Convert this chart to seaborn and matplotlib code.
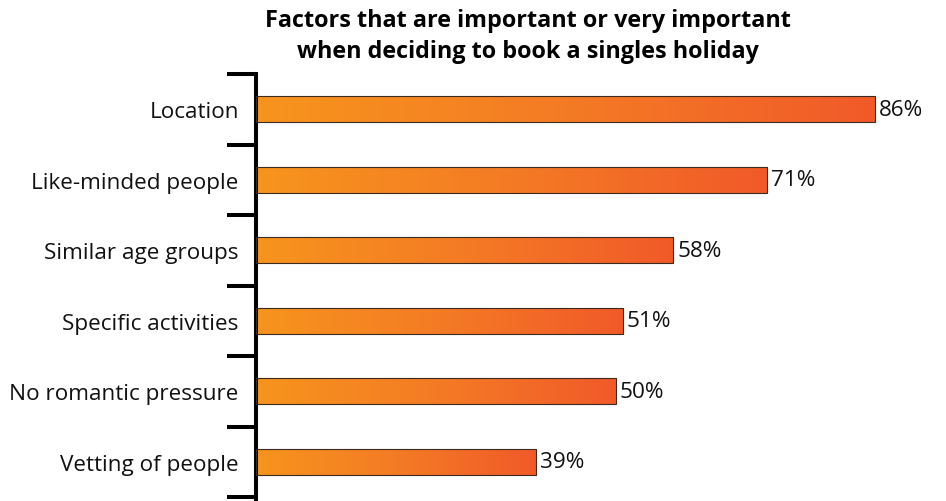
import numpy as np
import pandas as pd
import matplotlib
matplotlib.use("Agg")
import matplotlib.pyplot as plt
from matplotlib.colors import LinearSegmentedColormap
import seaborn as sns

factors = ["Location", "Like-minded people", "Similar age groups",
           "Specific activities", "No romantic pressure", "Vetting of people"]
shares = [86, 71, 58, 51, 50, 39]
title_lines = ["Factors that are important or very important",
               "when deciding to book a singles holiday"]

df = pd.DataFrame({"factor": factors, "share": shares})

sns.set_theme(style="white")
plt.rcParams["font.family"] = ["Open Sans", "DejaVu Sans"]

W, H = 946, 502
fig = plt.figure(figsize=(W / 100, H / 100), dpi=100)

# axes: spine at x~256px, top boundary tick at y~75px, runs off the bottom edge
left_px, top_px = 255.5, 75
unit_px = 70.5
ax_h_px = H - top_px
ax = fig.add_axes([left_px / W, 0, (W - left_px) / W, ax_h_px / H])

sns.barplot(data=df, x="share", y="factor", orient="h", ax=ax,
            width=0.37, color="#F47A22", edgecolor="#3a2a20", linewidth=0.8,
            zorder=2)

px_per_pct = 7.2
ax.set_xlim(0, (W - left_px) / px_per_pct)
ax.set_ylim(-0.5 + ax_h_px / unit_px, -0.5)

# horizontal orange -> red-orange gradient inside each bar
cmap = LinearSegmentedColormap.from_list("warm", ["#F7941D", "#F47B25", "#F15A29"])
grad = np.linspace(0, 1, 256).reshape(1, -1)
for bar in ax.patches:
    x0, y0 = bar.get_x(), bar.get_y()
    w, h = bar.get_width(), bar.get_height()
    im = ax.imshow(grad, cmap=cmap, aspect="auto", interpolation="bicubic",
                   extent=(x0, x0 + w, y0 + h, y0), zorder=2.5)
    im.set_clip_path(bar)
    bar.set_facecolor("none")
    bar.set_zorder(3)

ax.bar_label(ax.containers[0], labels=[f"{v}%" for v in shares],
             padding=3, fontsize=16.2, color="#111111")

# bracket-style axis: thick left spine with outward boundary ticks
for side in ["top", "right", "bottom"]:
    ax.spines[side].set_visible(False)
ax.spines["left"].set_linewidth(2.9)
ax.spines["left"].set_color("black")
ax.spines["left"].set_capstyle("projecting")

ax.set_yticks(np.arange(-0.5, len(factors) + 0.5, 1), minor=True)
ax.tick_params(axis="y", which="minor", length=21, width=2.9, color="black",
               direction="out", left=True)
ax.tick_params(axis="y", which="major", length=0, pad=12, labelsize=16.2,
               labelcolor="#111111")
ax.set_xticks([])
ax.set_xlabel("")
ax.set_ylabel("")
ax.set_facecolor("white")
ax.grid(False)

fig.text(528 / W, 1 - 21 / H, title_lines[0], ha="center", va="center",
         fontsize=16.8, fontweight="bold", color="black")
fig.text(528 / W, 1 - 52 / H, title_lines[1], ha="center", va="center",
         fontsize=16.8, fontweight="bold", color="black")

fig.savefig("out.png", dpi=100, facecolor="white")
